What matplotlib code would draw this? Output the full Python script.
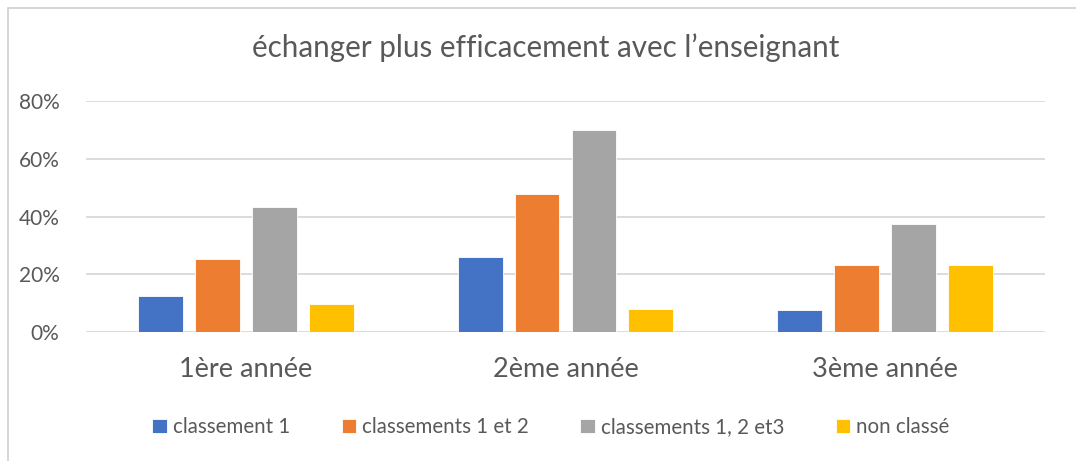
import numpy as np
import matplotlib.pyplot as plt
import matplotlib as mpl
from matplotlib.patches import Rectangle
mpl.use('Agg')
mpl.rc("font", family="Lato")

years = ["1ère année", "2ème année", "3ème année"]
series = ["classement 1", "classements 1 et 2", "classements 1, 2 et3", "non classé"]
values = [
    [0.127, 0.259, 0.077],
    [0.252, 0.479, 0.233],
    [0.434, 0.699, 0.376],
    [0.098, 0.079, 0.233],
]
colors = ["#4472C4", "#ED7D31", "#A5A5A5", "#FFC000"]
txt = "#595959"

fig = plt.figure(figsize=(10.76, 4.61), dpi=100)
fig.patches.append(Rectangle((8/1076, -0.1), 1.2, 1 - 8/461 + 0.1, transform=fig.transFigure,
                             fill=False, edgecolor="#D0D0D0", linewidth=1.2))
ax = fig.add_axes([86/1076, 1 - 332.3/461, (1045 - 86)/1076, (332.3 - 101)/461])

x = np.arange(len(years))
w = 0.14
step = 0.178
for i, (s, v) in enumerate(zip(series, values)):
    ax.bar(x + (i - 1.5)*step, v, w, color=colors[i], label=s, edgecolor="white", linewidth=0.6, zorder=3)

ax.set_xlim(-0.5, 2.5)
ax.set_ylim(0, 0.8)
ax.set_yticks(np.arange(0, 0.81, 0.2))
ax.set_yticklabels(["{:.0f}%".format(t*100) for t in np.arange(0, 0.81, 0.2)], fontsize=15, color=txt)
ax.set_xticks(x)
ax.set_xticklabels(years, fontsize=19.5, color=txt)
ax.tick_params(axis="both", length=0)
ax.tick_params(axis="x", pad=18)
ax.tick_params(axis="y", pad=19)
ax.grid(axis="y", color="#D9D9D9", linewidth=1.3, zorder=0)
for sp in ax.spines.values():
    sp.set_visible(False)

fig.text(546/1076, 1 - 48/461, "échanger plus efficacement avec l’enseignant", ha="center", va="center",
         fontsize=21.3, color=txt)
fig.legend(loc="center", bbox_to_anchor=(551/1076, 1 - 427/461), ncol=4, frameon=False, fontsize=14.8,
           labelcolor=txt, handlelength=0.7, handleheight=0.7, handletextpad=0.3, columnspacing=2.5)

plt.savefig("out.png", dpi=100)
